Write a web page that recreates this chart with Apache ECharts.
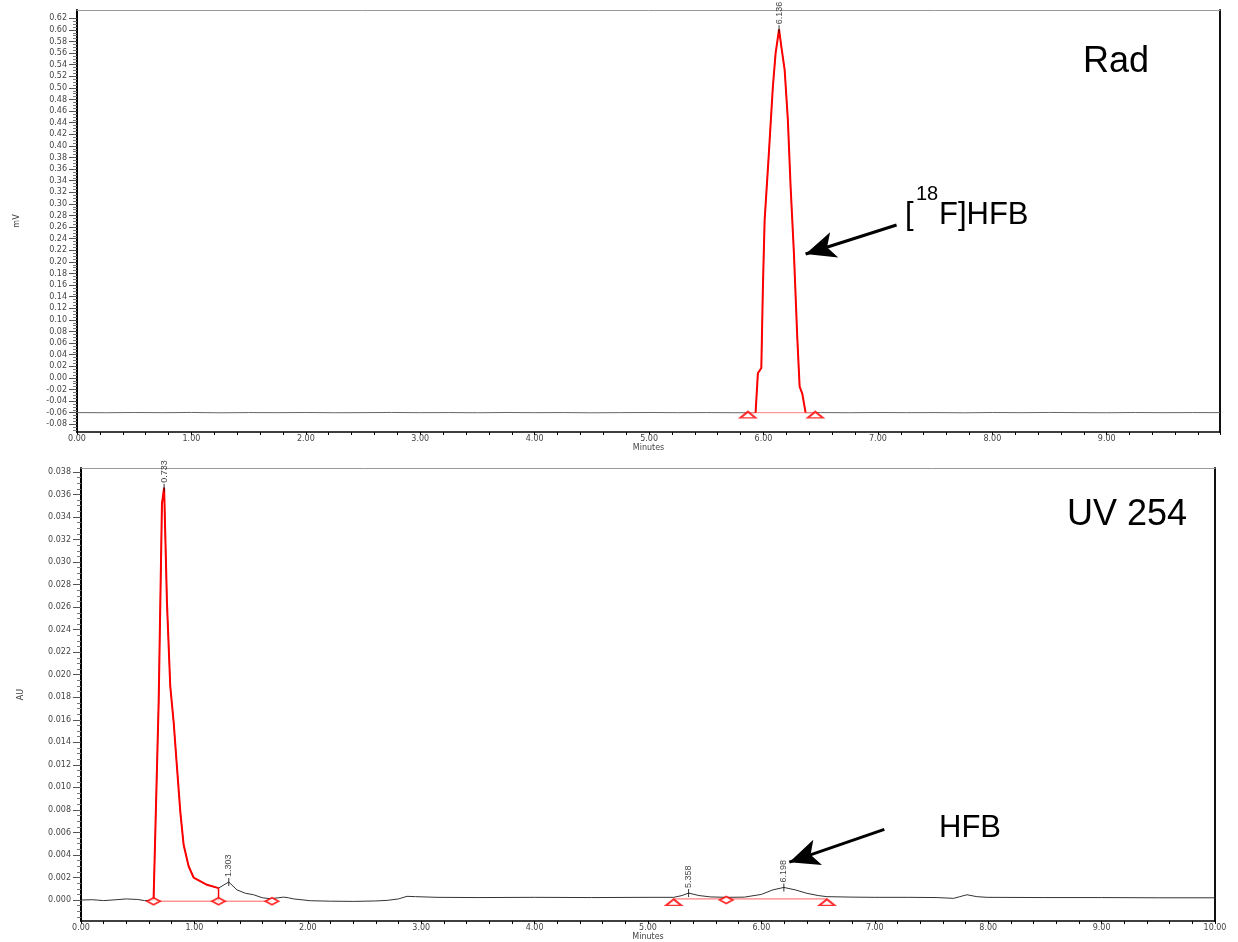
<!DOCTYPE html>
<html>
<head>
<meta charset="utf-8">
<script src="https://cdn.jsdelivr.net/npm/echarts@6/dist/echarts.min.js"></script>
<style>
html,body{margin:0;padding:0;background:#fff;}
#chart{width:1238px;height:942px;}
</style>
</head>
<body>
<div id="chart"></div>
<script>
// ---------- DATA ----------
// Rad trace (minutes, mV)
const radTrace = [
  [0.00,-0.0598],[0.25,-0.0601],[0.50,-0.0597],[0.75,-0.0600],[1.00,-0.0596],[1.25,-0.0602],
  [1.50,-0.0598],[1.75,-0.0600],[2.00,-0.0597],[2.25,-0.0601],[2.50,-0.0599],[2.75,-0.0596],
  [3.00,-0.0600],[3.25,-0.0598],[3.50,-0.0601],[3.75,-0.0597],[4.00,-0.0600],[4.25,-0.0598],
  [4.50,-0.0602],[4.75,-0.0599],[5.00,-0.0597],[5.25,-0.0600],[5.50,-0.0598],[5.75,-0.0601],
  [5.90,-0.0600],
  [5.931,-0.0600],[5.951,0.008],[5.981,0.017],[5.995,0.157],[6.010,0.272],[6.047,0.387],
  [6.082,0.502],[6.106,0.560],[6.136,0.601],[6.156,0.571],[6.185,0.531],[6.213,0.445],
  [6.237,0.330],[6.266,0.215],[6.295,0.071],[6.316,-0.015],[6.339,-0.027],[6.368,-0.0600],
  [6.50,-0.0598],[6.75,-0.0601],[7.00,-0.0597],[7.25,-0.0600],[7.50,-0.0598],[7.75,-0.0602],
  [8.00,-0.0597],[8.25,-0.0600],[8.50,-0.0596],[8.75,-0.0599],[9.00,-0.0601],[9.25,-0.0597],
  [9.50,-0.0600],[9.75,-0.0598],[9.99,-0.0599]
];
const radPeakWindow = [5.931, 6.368];
const radIntegration = [[5.864,-0.0600],[6.453,-0.0600]];
const radMarkers = [[5.864,-0.0636],[6.453,-0.0636]];
const radPeakLabels = [[6.136,0.601,'6.136']];
const radYTicks = [-0.08,-0.06,-0.04,-0.02,0.00,0.02,0.04,0.06,0.08,0.10,0.12,0.14,0.16,0.18,0.20,
  0.22,0.24,0.26,0.28,0.30,0.32,0.34,0.36,0.38,0.40,0.42,0.44,0.46,0.48,0.50,0.52,0.54,0.56,0.58,0.60,0.62];

// UV 254 trace (minutes, AU)
const uvTrace = [
  [0.00,0.0000],[0.10,0.00003],[0.20,-0.00005],[0.30,0.00002],[0.40,0.00010],[0.50,0.00005],
  [0.56,-0.00005],[0.62,-0.00003],
  [0.640,0.0000],[0.685,0.0176],[0.714,0.0352],[0.733,0.0366],[0.758,0.0264],[0.787,0.0190],
  [0.817,0.0158],[0.847,0.0117],[0.876,0.0078],[0.905,0.0049],[0.949,0.0030],[0.993,0.0020],
  [1.111,0.00135],[1.213,0.00106],
  [1.303,0.0016],[1.376,0.0009],[1.45,0.0006],[1.522,0.00047],[1.60,0.0002],[1.669,0.00012],
  [1.74,0.0002],[1.787,0.00026],[1.83,0.0002],[1.875,0.0001],[2.022,-0.00006],[2.20,-0.0001],
  [2.404,-0.00012],[2.60,-0.00008],[2.70,-0.00003],[2.80,0.0001],[2.875,0.00033],[2.95,0.0003],
  [3.14,0.00024],[3.50,0.00022],[4.00,0.00024],[4.50,0.00022],[5.00,0.00024],[5.226,0.00024],
  [5.30,0.0004],[5.358,0.00062],[5.45,0.0004],[5.55,0.00028],[5.69,0.00024],[5.85,0.00026],
  [6.00,0.0005],[6.10,0.0009],[6.198,0.00112],[6.30,0.0009],[6.40,0.0006],[6.50,0.0004],
  [6.578,0.0003],[6.80,0.00026],[7.00,0.00024],[7.30,0.00024],[7.55,0.00022],[7.695,0.00015],
  [7.75,0.0003],[7.813,0.00047],[7.90,0.0003],[7.99,0.00024],[8.50,0.00022],[9.00,0.00022],
  [9.50,0.0002],[10.00,0.0002]
];
const uvRedWindow = [0.640, 1.213];
const uvRedDrop = [[1.213,0.00106],[1.213,-0.0001]];
const uvIntegration1 = [[0.640,-0.0001],[1.684,-0.0001]];
const uvIntegration2 = [[5.226,0.0001],[6.578,0.0001]];
const uvDiamonds = [[0.640,-0.0001],[1.213,-0.0001],[1.684,-0.0001],[5.690,0.0000]];
const uvTriangles = [[5.226,-0.0002],[6.578,-0.0002]];
const uvPeakLabels = [[0.733,0.0366,'0.733'],[1.303,0.0016,'1.303'],[5.358,0.00062,'5.358'],[6.198,0.00112,'6.198']];
const uvYTicks = [0.000,0.002,0.004,0.006,0.008,0.010,0.012,0.014,0.016,0.018,0.020,0.022,0.024,
  0.026,0.028,0.030,0.032,0.034,0.036,0.038];

// Annotation arrows (data coordinates: [minutes, value])
const radArrow = [[7.163,0.2636],[6.368,0.2136]];
const uvArrow = [[7.084,0.00627],[6.246,0.00336]];

// ---------- CHART ----------
function minorTicks(major, n){
  const out = [];
  for (let i = 0; i < major.length - 1; i++){
    const a = major[i], b = major[i+1];
    for (let k = 1; k < n; k++) out.push(+(a + (b - a) * k / n).toFixed(6));
  }
  const step = (major[1]-major[0]) / n;
  for (let k = 1; k < n; k++){ out.push(+(major[0] - step*k).toFixed(6)); }
  return out;
}
const red = '#ff0000';
const lblFont = {fontSize: 8, fontFamily: 'DejaVu Sans', color: '#444'};

function xAx(grid, max){
  return {
    type: 'value', gridIndex: grid, min: 0, max: max, interval: 1,
    axisLine: {show: true, onZero: false, lineStyle: {color: '#000', width: 1.5}},
    axisTick: {show: true, length: 3, lineStyle: {color: '#000'}},
    minorTick: {show: true, splitNumber: 5, length: 3, lineStyle: {color: '#000'}},
    splitLine: {show: false},
    axisLabel: Object.assign({margin: 3, showMaxLabel: max === 10, formatter: v => v.toFixed(2)}, lblFont),
    name: 'Minutes', nameLocation: 'middle', nameGap: 12,
    nameTextStyle: {fontSize: 8, fontFamily: 'DejaVu Sans', color: '#444'}
  };
}
function xFrame(grid, max){
  return {type: 'value', gridIndex: grid, min: 0, max: max, position: 'top',
    axisLine: {show: true, onZero: false, lineStyle: {color: '#999', width: 1}},
    axisTick: {show: false}, axisLabel: {show: false}, splitLine: {show: false}};
}
function yAx(grid, min, max, ticks, dec, name){
  return {
    type: 'value', gridIndex: grid, min: min, max: max,
    axisLine: {show: true, onZero: false, lineStyle: {color: '#000', width: 2}},
    axisTick: {show: true, length: 8, customValues: ticks, lineStyle: {color: '#555'}},
    splitLine: {show: false},
    axisLabel: Object.assign({margin: 10, customValues: ticks, formatter: v => v.toFixed(dec)}, lblFont),
    name: name, nameLocation: 'middle', nameGap: 56, nameRotate: 90,
    nameTextStyle: {fontSize: 8, fontFamily: 'DejaVu Sans', color: '#444'}
  };
}
function yMinor(grid, min, max, ticks){
  return {type: 'value', gridIndex: grid, min: min, max: max, position: 'left',
    axisLine: {show: false}, splitLine: {show: false}, axisLabel: {show: false},
    axisTick: {show: true, length: 4, customValues: minorTicks(ticks, 4).filter(v => v > min && v < max), lineStyle: {color: '#777'}}};
}
function yFrame(grid, min, max){
  return {type: 'value', gridIndex: grid, min: min, max: max, position: 'right',
    axisLine: {show: true, onZero: false, lineStyle: {color: '#111', width: 2}},
    axisTick: {show: false}, axisLabel: {show: false}, splitLine: {show: false}};
}

const radMin = -0.0933, radMax = 0.6343;
const uvMin = -0.00186, uvMax = 0.03835;

function inWin(arr, w){ return arr.filter(p => p[0] >= w[0] - 1e-9 && p[0] <= w[1] + 1e-9); }

function peakSeries(xi, yi, data){
  return {
    type: 'scatter', xAxisIndex: xi, yAxisIndex: yi, data: data,
    symbol: 'rect', symbolSize: [1, 8], itemStyle: {color: '#000'}, z: 6,
    label: {show: true, position: 'top', distance: 1, rotate: 90, align: 'left', verticalAlign: 'middle',
      formatter: p => p.data[2], fontSize: 9, fontFamily: 'Liberation Sans', color: '#111'},
    silent: true
  };
}
function arrowLine(coords){
  return {
    silent: true, symbol: ['none', 'arrow'], symbolSize: [20, 30],
    lineStyle: {color: '#000', width: 3, type: 'solid'}, label: {show: false},
    emphasis: {disabled: true}, animation: false,
    data: [[{coord: coords[0]}, {coord: coords[1]}]]
  };
}

const option = {
  animation: false,
  backgroundColor: '#fff',
  grid: [
    {left: 77, top: 10, width: 1143, height: 422},
    {left: 81, top: 468, width: 1134, height: 455}
  ],
  xAxis: [xAx(0, 9.99), xFrame(0, 9.99), xAx(1, 10), xFrame(1, 10)],
  yAxis: [
    yAx(0, radMin, radMax, radYTicks, 2, 'mV'), yMinor(0, radMin, radMax, radYTicks), yFrame(0, radMin, radMax),
    yAx(1, uvMin, uvMax, uvYTicks, 3, 'AU'), yMinor(1, uvMin, uvMax, uvYTicks), yFrame(1, uvMin, uvMax)
  ],
  series: [
    // ---- Rad ----
    {type: 'line', xAxisIndex: 0, yAxisIndex: 0, data: radTrace, showSymbol: false,
      lineStyle: {color: '#666', width: 1}, z: 2, markLine: arrowLine(radArrow)},
    {type: 'line', xAxisIndex: 0, yAxisIndex: 0, data: radIntegration, showSymbol: false,
      lineStyle: {color: '#ff8080', width: 1}, z: 3},
    {type: 'line', xAxisIndex: 0, yAxisIndex: 0, data: inWin(radTrace, radPeakWindow), showSymbol: false,
      lineStyle: {color: red, width: 2}, z: 4},
    {type: 'scatter', xAxisIndex: 0, yAxisIndex: 0, data: radMarkers, symbol: 'emptyTriangle',
      symbolSize: [15, 6], itemStyle: {color: red, borderWidth: 1}, z: 5},
    peakSeries(0, 0, radPeakLabels),
    // ---- UV ----
    {type: 'line', xAxisIndex: 2, yAxisIndex: 3, data: uvTrace, showSymbol: false,
      lineStyle: {color: '#333', width: 1}, z: 2, markLine: arrowLine(uvArrow)},
    {type: 'line', xAxisIndex: 2, yAxisIndex: 3, data: uvIntegration1, showSymbol: false,
      lineStyle: {color: '#ff6060', width: 1}, z: 3},
    {type: 'line', xAxisIndex: 2, yAxisIndex: 3, data: uvIntegration2, showSymbol: false,
      lineStyle: {color: '#ff6060', width: 1}, z: 3},
    {type: 'line', xAxisIndex: 2, yAxisIndex: 3, data: inWin(uvTrace, uvRedWindow), showSymbol: false,
      lineStyle: {color: red, width: 2}, z: 4},
    {type: 'line', xAxisIndex: 2, yAxisIndex: 3, data: uvRedDrop, showSymbol: false,
      lineStyle: {color: red, width: 1.5}, z: 4},
    {type: 'scatter', xAxisIndex: 2, yAxisIndex: 3, data: uvDiamonds, symbol: 'emptyDiamond',
      symbolSize: [13, 7], itemStyle: {color: red, borderWidth: 1}, z: 5},
    {type: 'scatter', xAxisIndex: 2, yAxisIndex: 3, data: uvTriangles, symbol: 'emptyTriangle',
      symbolSize: [15, 6], itemStyle: {color: red, borderWidth: 1}, z: 5},
    peakSeries(2, 3, uvPeakLabels)
  ],
  graphic: [
    {type: 'text', left: 1083, top: 44, style: {text: 'Rad', font: '36px "Liberation Sans"', fill: '#000'}},
    {type: 'text', left: 1067, top: 497, style: {text: 'UV 254', font: '36px "Liberation Sans"', fill: '#000'}},
    {type: 'text', left: 905, top: 200, style: {text: '[', font: '31px "Liberation Sans"', fill: '#000'}},
    {type: 'text', left: 916, top: 184, style: {text: '18', font: '20px "Liberation Sans"', fill: '#000'}},
    {type: 'text', left: 939, top: 200, style: {text: 'F]HFB', font: '31px "Liberation Sans"', fill: '#000'}},
    {type: 'text', left: 939, top: 813, style: {text: 'HFB', font: '31px "Liberation Sans"', fill: '#000'}}
  ]
};

const chart = echarts.init(document.getElementById('chart'), null, {renderer: 'canvas'});
chart.setOption(option);
</script>
</body>
</html>
